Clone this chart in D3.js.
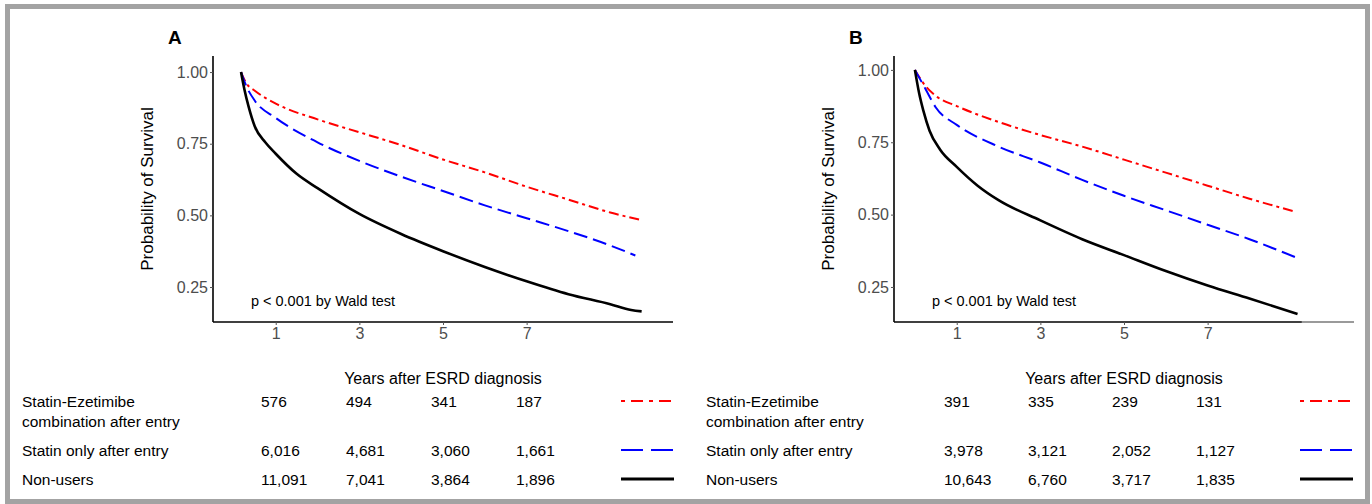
<!DOCTYPE html>
<html><head><meta charset="utf-8">
<script src="https://cdn.jsdelivr.net/npm/d3@7"></script>
<style>body{margin:0;background:#fff}svg{display:block}text{font-family:Arial,"Liberation Sans",sans-serif}</style>
</head><body>
<script>
// ---- data ----
const seriesNames = ["Statin-Ezetimibe combination after entry","Statin only after entry","Non-users"];
const tableLabels = [["Statin-Ezetimibe","combination after entry"],["Statin only after entry"],["Non-users"]];
const xTicks = [1,3,5,7];
const yTicks = [0.25,0.50,0.75,1.00];
const riskTimes = [1,3,5,7];

// Panel A
const aRedT   = [0.17,0.3,0.5,1,2,3,4,5,6,7,8,9,9.7];
const aRedV   = [1.0,0.96,0.935,0.89,0.835,0.79,0.745,0.695,0.65,0.60,0.555,0.51,0.485];
const aBlueT  = [0.17,0.3,0.5,1,2,3,4,5,6,7,8,9,9.6];
const aBlueV  = [1.0,0.95,0.90,0.84,0.755,0.69,0.635,0.585,0.535,0.49,0.445,0.395,0.36];
const aBlackT = [0.17,0.25,0.35,0.5,0.75,1,1.5,2,3,4,5,6,7,8,9,9.5,9.75];
const aBlackV = [1.0,0.94,0.88,0.81,0.755,0.715,0.645,0.595,0.505,0.435,0.375,0.32,0.27,0.225,0.19,0.17,0.165];
const aRisk = [[576,494,341,187],[6016,4681,3060,1661],[11091,7041,3864,1896]];

// Panel B
const bRedT   = [0,0.25,0.5,1,2,3,4,5,6,7,8,9.1];
const bRedV   = [1.0,0.945,0.91,0.875,0.82,0.775,0.735,0.69,0.645,0.60,0.555,0.51];
const bBlueT  = [0,0.25,0.5,1,2,3,4,5,6,7,8,9.15];
const bBlueV  = [1.0,0.935,0.87,0.81,0.735,0.68,0.62,0.565,0.515,0.465,0.415,0.35];
const bBlackT = [0,0.1,0.2,0.35,0.6,1,1.5,2,3,4,5,6,7,8,9.15];
const bBlackV = [1.0,0.92,0.86,0.79,0.725,0.665,0.60,0.55,0.48,0.415,0.36,0.305,0.255,0.21,0.157];
const bRisk = [[391,335,239,131],[3978,3121,2052,1127],[10643,6760,3717,1835]];

const colors = ["#ff0000","#0000ff","#000000"];
const dashes = ["10,4,3,4","14,6",null];
const legendDashes = ["4,6,12,6","22,8",null];
const widths = [2,2,2.6];

const W=1372,H=504;
const svg = d3.select("body").append("svg").attr("width",W).attr("height",H);
svg.append("rect").attr("width",W).attr("height",H).attr("fill","#fff");
svg.append("rect").attr("x",7.5).attr("y",6.5).attr("width",W-12).attr("height",H-9)
  .attr("fill","none").attr("stroke","#a3a3a3").attr("stroke-width",5);

const fmt = d3.format(",");

function panel(opt){
  const x = d3.scaleLinear().domain([-0.5,10.5]).range([opt.left,opt.left+460]);
  const y = d3.scaleLinear().domain(opt.yDom).range([322,56]);
  const g = svg.append("g");
  g.append("text").attr("x",opt.left-45).attr("y",44).attr("font-size",19).attr("font-weight","bold").text(opt.letter);
  // axes
  const ya = g.append("g").attr("transform",`translate(${opt.left},0)`).call(d3.axisLeft(y).tickValues(yTicks).tickFormat(d3.format(".2f")).tickSize(3).tickPadding(2));
  const xa = g.append("g").attr("transform",`translate(0,322)`).call(d3.axisBottom(x).tickValues(xTicks).tickFormat(d3.format("d")).tickSize(3).tickPadding(3));
  [ya,xa].forEach(a=>{
    a.select(".domain").attr("stroke","#000").attr("stroke-width",1.6);
    a.selectAll(".tick line").attr("stroke","#555");
    a.selectAll(".tick text").attr("fill","#4d4d4d").attr("font-size",16).attr("font-family","Arial, 'Liberation Sans', sans-serif");
  });
  ya.select(".domain").attr("d",`M0,56V322`);
  xa.select(".domain").attr("d",`M${opt.left},0H${opt.left+460}`);
  if(opt.grayFrom){
    g.append("line").attr("x1",x(opt.grayFrom)).attr("x2",opt.left+460).attr("y1",322).attr("y2",322)
      .attr("stroke","#9a9a9a").attr("stroke-width",1.8);
  }
  g.append("text").attr("transform",`translate(${opt.left-60},${(56+322)/2}) rotate(-90)`)
    .attr("text-anchor","middle").attr("font-size",17).text("Probability of Survival");
  g.append("text").attr("x",x(0)+17).attr("y",306).attr("font-size",14.5).text("p < 0.001 by Wald test");
  // curves
  const line = d3.line().x(d=>x(d[0])).y(d=>y(d[1])).curve(d3.curveMonotoneX);
  opt.series.forEach((s,i)=>{
    const pts = s[0].map((t,k)=>[t,s[1][k]]);
    const p = g.append("path").attr("d",line(pts)).attr("fill","none").attr("stroke",colors[i])
      .attr("stroke-width",widths[i]);
    if(dashes[i]) p.attr("stroke-dasharray",dashes[i]);
  });
  // x title
  g.append("text").attr("x",opt.left+230).attr("y",384).attr("text-anchor","middle").attr("font-size",16).text("Years after ESRD diagnosis");
  // risk table
  const rowY = [407,456,485];
  const colX = d3.scaleLinear().domain([1,7]).range([opt.tableX0,opt.tableX0+opt.tableStep*3]);
  tableLabels.forEach((lbl,i)=>{
    lbl.forEach((l,j)=>g.append("text").attr("x",opt.labelX).attr("y",rowY[i]+j*20).attr("font-size",15.5).text(l));
    opt.risk[i].forEach((v,k)=>g.append("text").attr("x",colX(riskTimes[k])).attr("y",rowY[i]).attr("font-size",15.5).text(fmt(v)));
    const ly = rowY[i]-6;
    const l = g.append("line").attr("x1",opt.legX).attr("x2",opt.legX+53).attr("y1",ly).attr("y2",ly)
      .attr("stroke",colors[i]).attr("stroke-width",i==2?3:2.2);
    if(legendDashes[i]) l.attr("stroke-dasharray",legendDashes[i]);
  });
}

panel({letter:"A",left:213,yDom:[0.128,1.056],labelX:22,tableX0:261,tableStep:85,legX:621,risk:aRisk,
  series:[[aRedT,aRedV],[aBlueT,aBlueV],[aBlackT,aBlackV]]});
panel({letter:"B",left:894,yDom:[0.129,1.048],labelX:706,tableX0:944,tableStep:84,legX:1300,risk:bRisk,grayFrom:9.25,
  series:[[bRedT,bRedV],[bBlueT,bBlueV],[bBlackT,bBlackV]]});
</script>
</body></html>
